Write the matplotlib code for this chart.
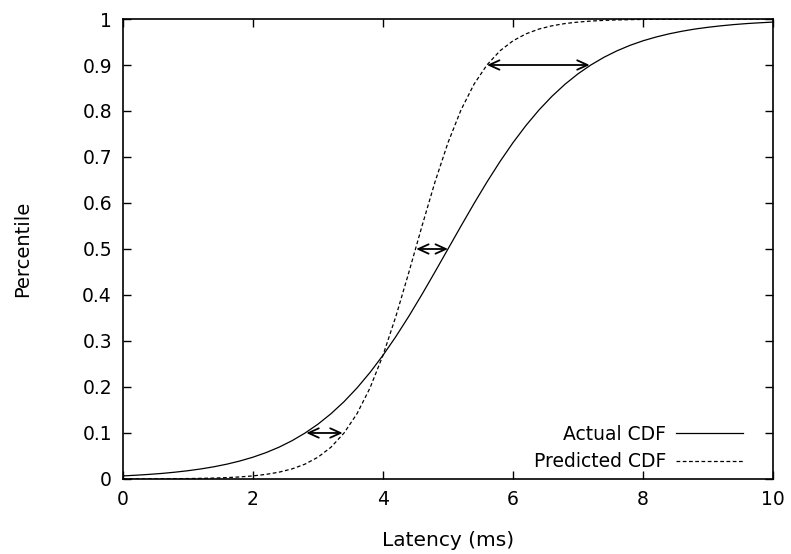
import matplotlib
matplotlib.use("Agg")
import matplotlib.pyplot as plt

# latency grid (ms) and percentile values
latency = [0.0, 0.2, 0.4, 0.6, 0.8, 1.0, 1.2, 1.4, 1.6, 1.8,
           2.0, 2.2, 2.4, 2.6, 2.8, 3.0, 3.2, 3.4, 3.6, 3.8,
           4.0, 4.2, 4.4, 4.6, 4.8, 5.0, 5.2, 5.4, 5.6, 5.8,
           6.0, 6.2, 6.4, 6.6, 6.8, 7.0, 7.2, 7.4, 7.6, 7.8,
           8.0, 8.2, 8.4, 8.6, 8.8, 9.0, 9.2, 9.4, 9.6, 9.8, 10.0]

actual_cdf = [0.0067, 0.0082, 0.0100, 0.0121, 0.0148, 0.0180, 0.0219, 0.0266, 0.0323, 0.0392,
              0.0474, 0.0573, 0.0691, 0.0832, 0.0998, 0.1192, 0.1419, 0.1680, 0.1978, 0.2315,
              0.2689, 0.3100, 0.3543, 0.4013, 0.4502, 0.5000, 0.5498, 0.5987, 0.6457, 0.6900,
              0.7311, 0.7685, 0.8022, 0.8320, 0.8581, 0.8808, 0.9002, 0.9168, 0.9308, 0.9427,
              0.9526, 0.9608, 0.9677, 0.9734, 0.9782, 0.9820, 0.9852, 0.9879, 0.9901, 0.9918, 0.9933]

predicted_cdf = [0.0001, 0.0002, 0.0003, 0.0004, 0.0006, 0.0009, 0.0014, 0.0020, 0.0030, 0.0045,
                 0.0067, 0.0100, 0.0148, 0.0219, 0.0323, 0.0474, 0.0691, 0.0998, 0.1419, 0.1978,
                 0.2689, 0.3543, 0.4502, 0.5498, 0.6457, 0.7311, 0.8022, 0.8581, 0.9002, 0.9308,
                 0.9526, 0.9677, 0.9782, 0.9852, 0.9901, 0.9933, 0.9955, 0.9970, 0.9980, 0.9986,
                 0.9991, 0.9994, 0.9996, 0.9997, 0.9998, 0.9999, 0.9999, 0.9999, 1.0000, 1.0000, 1.0000]

# gap arrows between predicted and actual at given percentiles
arrow_pct = [0.1, 0.5, 0.9]
arrow_from = [2.82, 4.51, 5.60]
arrow_to = [3.38, 5.00, 7.18]

x_ticks = [0, 2, 4, 6, 8, 10]
y_ticks = [0, 0.1, 0.2, 0.3, 0.4, 0.5, 0.6, 0.7, 0.8, 0.9, 1]

plt.rcParams['font.family'] = ['DejaVu Sans']
plt.rcParams['font.size'] = 13.5

fig = plt.figure(figsize=(7.91, 5.54), dpi=100)
ax = fig.add_axes([0.1555, 0.1354, 0.8217, 0.8303])

ax.plot(latency, actual_cdf, color='black', lw=0.9, label='Actual CDF')
ax.plot(latency, predicted_cdf, color='black', lw=0.9, dashes=(3, 2), label='Predicted CDF')

for p, a, b in zip(arrow_pct, arrow_from, arrow_to):
    ax.annotate('', xy=(a, p), xytext=(b, p),
                arrowprops=dict(arrowstyle='<->,head_length=0.55,head_width=0.25',
                                color='black', lw=1.3, shrinkA=0, shrinkB=0))

ax.set_xlim(0, 10)
ax.set_ylim(0, 1)
ax.set_xticks(x_ticks)
ax.set_yticks(y_ticks)
ax.set_yticklabels([f'{v:g}' for v in y_ticks])
ax.tick_params(direction='in', length=6, width=1, top=True, right=True, pad=8)
for s in ax.spines.values():
    s.set_linewidth(1.2)

ax.set_xlabel('Latency (ms)', fontsize=14.5, labelpad=16)
ax.set_ylabel('Percentile', fontsize=14, labelpad=36)

ax.legend(loc='lower right', markerfirst=False, frameon=False, handlelength=3.6,
          handletextpad=0.5, labelspacing=0.45, borderaxespad=0.0,
          bbox_to_anchor=(0.966, 0.0))

fig.savefig('out.png', dpi=100)
